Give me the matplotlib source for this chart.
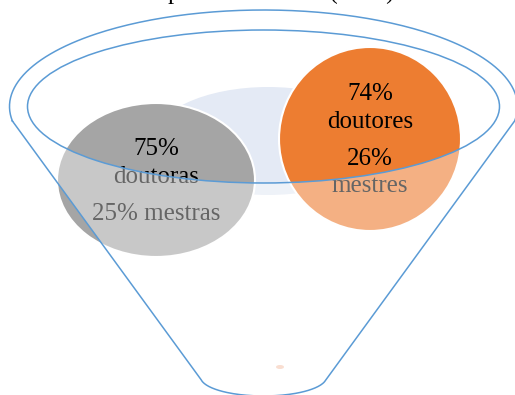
import numpy as np
import matplotlib.pyplot as plt
from matplotlib.patches import Ellipse, Polygon

# dados
grupos = ["doutoras", "doutores"]
pct_doutor = [75, 74]
pct_mestre = [25, 26]
titulo = "Corpo docente total (2018)"

azul = "#5B9BD5"
cores = ["#A5A5A5", "#ED7D31"]

fig = plt.figure(figsize=(5.15, 3.95), dpi=100)
ax = fig.add_axes([0, 0, 1, 1])
ax.set_xlim(0, 515)
ax.set_ylim(395, 0)
ax.axis("off")

fonte = "Liberation Serif"

# titulo (cortado em cima, so aparecem os descendentes)
ax.text(132, -1.5, titulo, fontsize=17.5, family=fonte, ha="left", va="baseline", color="black")

# geometria do funil
cx = 263.5
ocy, oa, ob = 106.5, 254, 96.5     # elipse de fora
ia, ib = 236, 76.5                 # boca
bcy, ba, bb = 377, 63, 19          # fundo
k = np.arcsin(14.5 / ob)
kb = 0.15

t = np.linspace(np.pi - k, 2 * np.pi + k, 200)
topo_x = cx + oa * np.cos(t)
topo_y = ocy + ob * np.sin(t)
t = np.linspace(np.pi - kb, kb, 100)
fundo_x = cx + ba * np.cos(t)
fundo_y = bcy + bb * np.sin(t)

# bola azul clara no fundo
ax.add_patch(Ellipse((268, 141), 230, 108, facecolor="#E4EAF5", edgecolor="none", zorder=1))

# bolas
centros = [(156, 180), (370, 139)]
tamanhos = [(198, 154), (182, 184)]
for i in range(2):
    ax.add_patch(Ellipse(centros[i], tamanhos[i][0], tamanhos[i][1], facecolor=cores[i],
                         edgecolor="white", lw=1.5, zorder=2))
# bolinha pequena no fundo do funil
ax.add_patch(Ellipse((280, 367), 8, 4, facecolor="#F6C9B3", edgecolor="none", zorder=2))

# textos
ax.text(156, 155, "%d%%" % pct_doutor[0], fontsize=18, family=fonte, ha="center", va="baseline", zorder=3)
ax.text(156, 183, grupos[0], fontsize=18, family=fonte, ha="center", va="baseline", zorder=3)
ax.text(156, 220, "%d%% mestras" % pct_mestre[0], fontsize=18, family=fonte, ha="center", va="baseline", zorder=3)
ax.text(370, 100, "%d%%" % pct_doutor[1], fontsize=18, family=fonte, ha="center", va="baseline", zorder=3)
ax.text(370, 128, grupos[1], fontsize=18, family=fonte, ha="center", va="baseline", zorder=3)
ax.text(370, 165, "%d%%" % pct_mestre[1], fontsize=18, family=fonte, ha="center", va="baseline", zorder=3)
ax.text(370, 192, "mestres", fontsize=18, family=fonte, ha="center", va="baseline", zorder=3)

# corpo do funil (branco transparente)
t = np.linspace(np.pi, 0, 150)
boca_x = cx + ia * np.cos(t)
boca_y = ocy + ib * np.sin(t)
px = np.concatenate([boca_x, [topo_x[-1]], fundo_x[::-1], [topo_x[0]]])
py = np.concatenate([boca_y, [topo_y[-1]], fundo_y[::-1], [topo_y[0]]])
ax.add_patch(Polygon(np.column_stack([px, py]), closed=True, facecolor="white",
                     edgecolor="none", alpha=0.4, zorder=4))

# contornos
lx = np.concatenate([topo_x, fundo_x[::-1], [topo_x[0]]])
ly = np.concatenate([topo_y, fundo_y[::-1], [topo_y[0]]])
ax.plot(lx, ly, color=azul, lw=1.1, zorder=5)
ax.add_patch(Ellipse((cx, ocy), 2 * ia, 2 * ib, facecolor="none", edgecolor=azul, lw=1.1, zorder=5))

fig.savefig("out.png", dpi=100)
